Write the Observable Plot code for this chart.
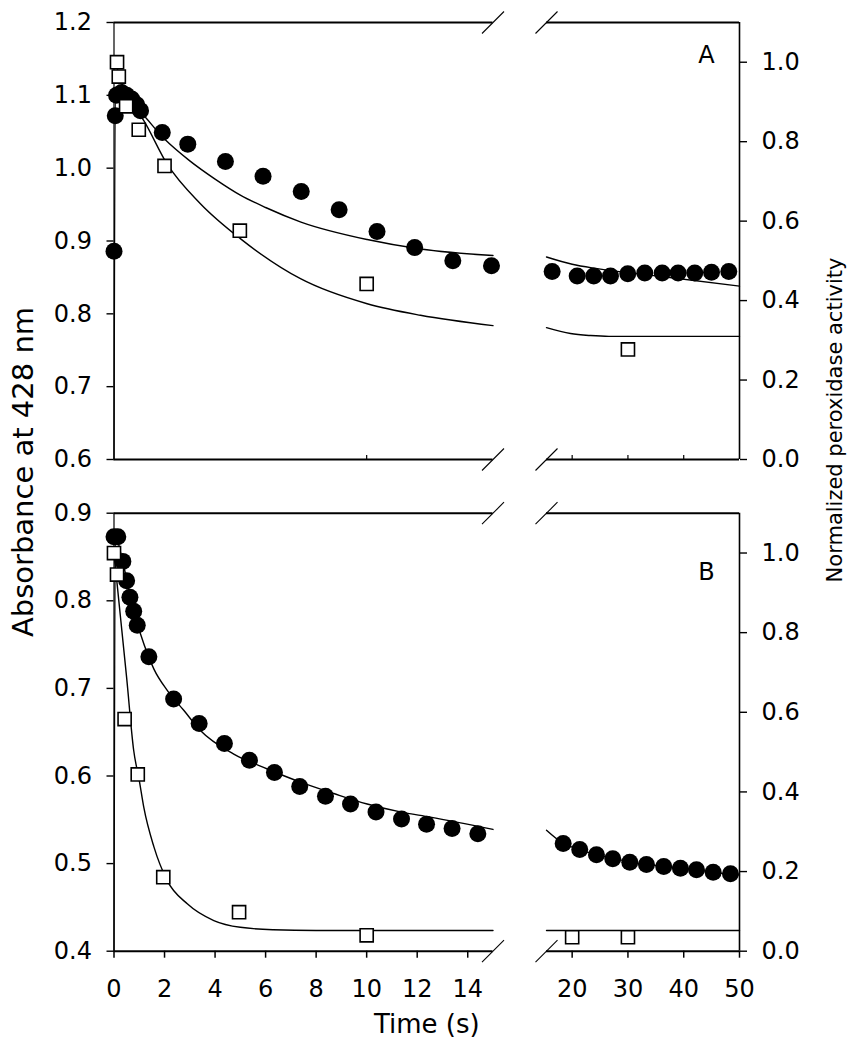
<!DOCTYPE html>
<html>
<head>
<meta charset="utf-8">
<script src="https://cdn.jsdelivr.net/npm/d3@7"></script>
<script src="https://cdn.jsdelivr.net/npm/@observablehq/plot@0.6"></script>
<style>
  html, body { margin: 0; padding: 0; background: #fff; }
  #fig { position: relative; width: 854px; height: 1050px; overflow: hidden; font-family: "DejaVu Sans", sans-serif; color: #000; background: #fff; }
  #panelA { position: absolute; left: 0; top: 0; }
  #panelB { position: absolute; left: 0; top: 480px; }
  .ylab { position: absolute; white-space: nowrap; line-height: 1; transform: translate(-50%, -50%) rotate(-90deg); }
</style>
</head>
<body>
<div id="fig">
  <div id="panelA"></div>
  <div id="panelB"></div>
  <div class="ylab" style="left:23px; top:472px; font-size:29px;">Absorbance at 428 nm</div>
  <div class="ylab" style="left:835px; top:420px; font-size:21px;">Normalized peroxidase activity</div>
</div>
<script>
// ---------- axis definitions ----------
const xBreakDomain = [0, 15, 15.4, 50];            // broken time axis (s)
const xTicksB = [0, 2, 4, 6, 8, 10, 12, 14, 20, 30, 40, 50];
const xInnerTicksA = [10, 20, 30, 40];
const yTicksA = [0.6, 0.7, 0.8, 0.9, 1.0, 1.1, 1.2];
const yTicksB = [0.4, 0.5, 0.6, 0.7, 0.8, 0.9];
const rightTicks = [0.0, 0.2, 0.4, 0.6, 0.8, 1.0];
const rightDomain = [0, 1.1];

// ---------- Panel A data ----------
// absorbance at 428 nm (filled circles)
const aCircT = [0, 0.05, 0.1, 0.3, 0.5, 0.7, 0.9, 1.05, 1.91, 2.92, 4.41, 5.9, 7.41, 8.91, 10.41, 11.9, 13.41, 14.94,
                16.41, 20.9, 23.87, 26.87, 29.97, 33.02, 36.14, 39.0, 41.98, 44.98, 48.08];
const aCircV = [0.886, 1.072, 1.100, 1.104, 1.100, 1.095, 1.087, 1.079, 1.049, 1.033, 1.009, 0.989, 0.968, 0.943, 0.913, 0.891, 0.873, 0.866,
                0.858, 0.852, 0.852, 0.852, 0.855, 0.856, 0.856, 0.856, 0.856, 0.857, 0.858];
// normalized peroxidase activity (open squares)
const aSqT = [0.12, 0.19, 0.48, 0.98, 2.0, 4.98, 10.0, 30.0];
const aSqR = [1.0, 0.964, 0.889, 0.830, 0.739, 0.576, 0.442, 0.277];
// fitted curves
const aFitAbsT = [0, 0.05, 0.5, 1.05, 2.0, 3.0, 4.0, 5.0, 6.0, 7.4, 10.02, 12.13, 15, 15.4, 20, 24.5, 36.4, 50];
const aFitAbsV = [0.6, 1.10, 1.095, 1.077, 1.040, 1.010, 0.985, 0.963, 0.946, 0.926, 0.902, 0.889, 0.880, 0.878, 0.868, 0.862, 0.851, 0.838];
const aFitActT = [0.05, 0.5, 1.18, 2.1, 3.42, 5.0, 7.38, 10.02, 12.13, 15, 15.4, 19.7, 23.3, 26.6, 50];
const aFitActR = [1.00, 0.917, 0.853, 0.744, 0.644, 0.556, 0.455, 0.392, 0.363, 0.337, 0.332, 0.317, 0.312, 0.310, 0.310];

// ---------- Panel B data ----------
const bCircT = [0, 0.15, 0.35, 0.5, 0.63, 0.78, 0.92, 1.38, 2.36, 3.37, 4.37, 5.36, 6.35, 7.35, 8.37, 9.36, 10.37, 11.38, 12.37, 13.38, 14.4,
                18.39, 21.36, 24.36, 27.28, 30.33, 33.32, 36.42, 39.41, 42.29, 45.28, 48.38];
const bCircV = [0.873, 0.873, 0.845, 0.823, 0.804, 0.788, 0.772, 0.736, 0.688, 0.660, 0.637, 0.618, 0.604, 0.588, 0.577, 0.568, 0.559, 0.551, 0.545, 0.540, 0.534,
                0.523, 0.516, 0.510, 0.5055, 0.5016, 0.499, 0.4967, 0.4947, 0.4929, 0.4902, 0.4884];
const bSqT = [0, 0.12, 0.42, 0.94, 1.95, 4.95, 10.0, 20.0, 30.0];
const bSqR = [1.0, 0.946, 0.583, 0.444, 0.186, 0.098, 0.040, 0.035, 0.035];
const bFitAbsT = [0, 0.05, 0.3, 0.5, 0.78, 1.05, 1.58, 2.1, 2.76, 3.42, 4.74, 6.07, 7.38, 8.7, 10.02, 11.33, 12.52, 15,
                  15.4, 18.4, 21.4, 24.4, 27.3, 30.3, 33.3, 36.4, 39.4, 42.3, 45.3, 48.4, 50];
const bFitAbsV = [0.4, 0.875, 0.85, 0.825, 0.788, 0.762, 0.722, 0.698, 0.675, 0.652, 0.625, 0.608, 0.593, 0.580, 0.568, 0.559, 0.553, 0.539,
                  0.538, 0.523, 0.516, 0.510, 0.506, 0.502, 0.499, 0.497, 0.495, 0.493, 0.490, 0.488, 0.487];
const bFitActT = [0, 0.1, 0.25, 0.5, 0.78, 1.0, 1.18, 1.58, 2.1, 2.9, 3.95, 5.0, 6.3, 8, 10, 15, 15.4, 50];
const bFitActR = [1.0, 0.937, 0.843, 0.687, 0.504, 0.429, 0.361, 0.262, 0.178, 0.119, 0.077, 0.060, 0.054, 0.052, 0.052, 0.052, 0.052, 0.052];

// ---------- helpers ----------
const rows = (T, V) => T.map((t, i) => ({t, v: V[i]}));
const seg = d => (d.t <= xBreakDomain[1] ? "left" : "right");
const slash = { draw(ctx, size) { const a = Math.sqrt(size / Math.PI); ctx.moveTo(-a, a); ctx.lineTo(a, -a); } };
const fmt1 = d3.format(".1f");

function panel({yDomain, yTicks, circT, circV, sqT, sqR, fitAbsT, fitAbsV, fitActT, fitActR,
                letter, letterDy, height, marginTop, marginBottom, bottomAxis}) {
  const [y0, y1] = yDomain;
  // right axis (normalized activity, 0–1.1) mapped onto the absorbance axis
  const toLeft = r => y0 + (r - rightDomain[0]) / (rightDomain[1] - rightDomain[0]) * (y1 - y0);
  const toRight = y => rightDomain[0] + (y - y0) / (y1 - y0) * (rightDomain[1] - rightDomain[0]);
  const segments = [{x1: xBreakDomain[0], x2: xBreakDomain[1]}, {x1: xBreakDomain[2], x2: xBreakDomain[3]}];
  const breaks = [];
  for (const x of [xBreakDomain[1], xBreakDomain[2]]) for (const y of [y0, y1]) breaks.push({x, y});
  const frameH = height - marginTop - marginBottom;

  const marks = [
    // frame lines (top & bottom, broken)
    Plot.ruleY(segments, {y: y1, x1: "x1", x2: "x2", strokeWidth: 2}),
    Plot.ruleY(segments, {y: y0, x1: "x1", x2: "x2", strokeWidth: 2}),
    Plot.ruleX([xBreakDomain[0]], {y1: y0, y2: y1, strokeWidth: 1.2}),
    Plot.ruleX([xBreakDomain[3]], {y1: y0, y2: y1, strokeWidth: 1.6}),
    Plot.dot(breaks, {x: "x", y: "y", symbol: slash, r: 11, stroke: "black", fill: "none", strokeWidth: 1.1}),
    // axes
    Plot.axisY({anchor: "left", ticks: yTicks, tickFormat: fmt1, tickSize: 7, tickPadding: 15, strokeWidth: 1.4, label: null}),
    Plot.axisY({anchor: "right", ticks: rightTicks.map(toLeft), tickFormat: d => fmt1(toRight(d)), tickSize: 7, tickPadding: 15, strokeWidth: 1.4, label: null}),
    // fitted curves
    Plot.line(rows(fitAbsT, fitAbsV), {x: "t", y: "v", z: seg, curve: "monotone-x", stroke: "black", strokeWidth: 1.4}),
    Plot.line(rows(fitActT, fitActR), {x: "t", y: d => toLeft(d.v), z: seg, curve: "monotone-x", stroke: "black", strokeWidth: 1.4}),
    // data
    Plot.dot(rows(circT, circV), {x: "t", y: "v", r: 8.5, symbol: "circle", fill: "black", stroke: "none"}),
    Plot.dot(rows(sqT, sqR), {x: "t", y: d => toLeft(d.v), r: 7.4, symbol: "square", fill: "white", stroke: "black", strokeWidth: 1.6}),
    // panel letter
    Plot.text([letter], {text: d => d, frameAnchor: "top-right", dx: -33, dy: letterDy, textAnchor: "middle", lineAnchor: "top", fontSize: 24})
  ];
  if (bottomAxis) {
    marks.push(Plot.axisX({anchor: "bottom", ticks: xTicksB, tickFormat: d => String(d), tickSize: 7, tickPadding: 22, strokeWidth: 1.5, label: null}));
    marks.push(Plot.text(["Time (s)"], {text: d => d, frameAnchor: "bottom", dy: 82, lineAnchor: "bottom", textAnchor: "middle", fontSize: 26}));
  } else {
    marks.push(Plot.tickX(xInnerTicksA, {x: d => d, insetTop: frameH - 4, strokeWidth: 1.2}));
  }

  return Plot.plot({
    width: 854,
    height,
    marginLeft: 113.5,
    marginRight: 115,
    marginTop,
    marginBottom,
    x: {type: "linear", domain: xBreakDomain, range: [113.5, 492.5, 546, 739], axis: null, label: null},
    y: {type: "linear", domain: yDomain, axis: null, label: null},
    style: {fontFamily: "DejaVu Sans", fontSize: "24px", color: "black", background: "white", overflow: "visible"},
    marks
  });
}

document.getElementById("panelA").append(panel({
  yDomain: [0.6, 1.2], yTicks: yTicksA,
  circT: aCircT, circV: aCircV, sqT: aSqT, sqR: aSqR,
  fitAbsT: aFitAbsT, fitAbsV: aFitAbsV, fitActT: aFitActT, fitActR: aFitActR,
  letter: "A", letterDy: 23, height: 480, marginTop: 22, marginBottom: 21, bottomAxis: false
}));
document.getElementById("panelB").append(panel({
  yDomain: [0.4, 0.9], yTicks: yTicksB,
  circT: bCircT, circV: bCircV, sqT: bSqT, sqR: bSqR,
  fitAbsT: bFitAbsT, fitAbsV: bFitAbsV, fitActT: bFitActT, fitActR: bFitActR,
  letter: "B", letterDy: 50, height: 570, marginTop: 32.7, marginBottom: 99.3, bottomAxis: true
}));
</script>
</body>
</html>
